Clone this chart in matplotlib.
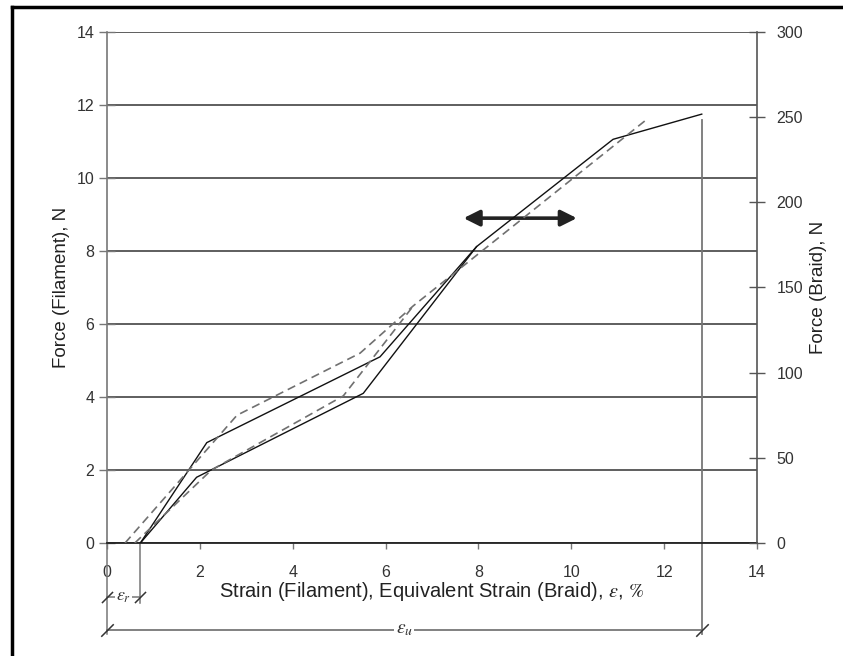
import matplotlib
matplotlib.use("Agg")
import matplotlib.pyplot as plt
from matplotlib.lines import Line2D

plt.rcParams['font.family'] = ['Liberation Sans', 'DejaVu Sans']
plt.rcParams['mathtext.fontset'] = 'stix'

# filament / braid curves (strain %, force N)
solid_a_x = [0.72, 2.15, 5.88, 7.96, 10.9, 12.81]
solid_a_y = [0.0, 2.75, 5.10, 8.12, 11.06, 11.75]
solid_b_x = [0.72, 1.93, 5.52, 7.96]
solid_b_y = [0.0, 1.80, 4.10, 8.12]
dash_a_x = [0.39, 2.80, 5.45, 6.60, 11.62]
dash_a_y = [0.0, 3.50, 5.20, 6.50, 11.60]
dash_b_x = [0.60, 2.25, 5.09, 6.60]
dash_b_y = [0.0, 2.00, 4.03, 6.50]

x_ticks = [0, 2, 4, 6, 8, 10, 12, 14]
y_ticks = [0, 2, 4, 6, 8, 10, 12, 14]
braid_ticks = [0, 50, 100, 150, 200, 250, 300]

eps_r = 0.72
eps_u = 12.81
eps_u_top = 11.6
arrow_y = 8.9
arrow_x = [7.68, 10.12]

fig = plt.figure(figsize=(8.43, 6.56), dpi=100)
ax = fig.add_axes([0.1269, 0.1723, 0.7711, 0.7789])
ax2 = ax.twinx()

ax.set_xlim(0, 14)
ax.set_ylim(0, 14)
ax2.set_ylim(0, 300)

ax.plot(solid_a_x, solid_a_y, color='#111111', lw=1.0, zorder=4)
ax.plot(solid_b_x, solid_b_y, color='#111111', lw=1.0, zorder=4)
ax.plot(dash_a_x, dash_a_y, color='#707070', lw=1.2, ls=(0, (5, 3)), zorder=4)
ax.plot(dash_b_x, dash_b_y, color='#707070', lw=1.2, ls=(0, (5, 3)), zorder=4)

# horizontal grid
ax.set_yticks(y_ticks)
ax.yaxis.grid(True, color='#333333', lw=1.1)
ax.set_axisbelow(True)
ax.set_xticks(x_ticks)

for a in (ax, ax2):
    a.spines['top'].set_visible(False)
ax.spines['left'].set_color('#777777')
ax.spines['left'].set_linewidth(1.2)
ax.spines['bottom'].set_color('#222222')
ax.spines['bottom'].set_linewidth(1.3)
ax.spines['right'].set_visible(False)
ax2.spines['left'].set_visible(False)
ax2.spines['bottom'].set_visible(False)
ax2.spines['right'].set_color('#555555')
ax2.spines['right'].set_linewidth(1.2)
ax2.set_yticks(braid_ticks)

ax.tick_params(axis='y', direction='inout', length=12, width=1, color='#777777',
               labelsize=11.5, labelcolor='#333333', pad=3)
ax.tick_params(axis='x', direction='out', length=4, width=1, color='#777777',
               labelsize=11.5, labelcolor='#333333', pad=12)
ax2.tick_params(axis='y', direction='inout', length=12, width=1, color='#555555',
                labelsize=11.5, labelcolor='#333333', pad=8)

narrow = ['Liberation Sans Narrow', 'Liberation Sans', 'DejaVu Sans']
ax.set_ylabel('Force (Filament), N', fontsize=13.5, family=narrow, color='#222222', labelpad=5)
ax2.set_ylabel('Force (Braid), N', fontsize=13.5, family=narrow, color='#222222', labelpad=5)
ax.set_xlabel(r'Strain (Filament), Equivalent Strain (Braid), $\varepsilon$, $\%$',
              fontsize=14.5, color='#222222', labelpad=0)

# double arrow
ax.annotate('', xy=(arrow_x[1], arrow_y), xytext=(arrow_x[0], arrow_y),
            arrowprops=dict(arrowstyle='<|-|>', color='#222222', lw=2.6,
                            mutation_scale=24, shrinkA=0, shrinkB=0), zorder=3)

# dimension lines for eps_r and eps_u
dim_r_y = -1.48
dim_u_y = -2.38
ext_bottom = -2.5
gray = '#777777'
ax.plot([0, 0], [0, ext_bottom], color=gray, lw=1.1, clip_on=False)
ax.plot([eps_r, eps_r], [0, -1.64], color=gray, lw=1.1, clip_on=False)
ax.plot([eps_u, eps_u], [eps_u_top, ext_bottom], color=gray, lw=1.3, clip_on=False)
ax.plot([0, eps_r], [dim_r_y, dim_r_y], color=gray, lw=1.1, clip_on=False)
ax.plot([0, eps_u], [dim_u_y, dim_u_y], color=gray, lw=1.3, clip_on=False)
slash = [(-1, -1), (1, 1)]
ax.plot([0, eps_r], [dim_r_y, dim_r_y], ls='none', marker=slash, ms=8,
        mec='#333333', mew=1.1, clip_on=False)
ax.plot([0, eps_u], [dim_u_y, dim_u_y], ls='none', marker=slash, ms=9,
        mec='#333333', mew=1.1, clip_on=False)
ax.text(eps_r / 2, dim_r_y, r'$\varepsilon_r$', fontsize=13, color='#333333',
        ha='center', va='center', clip_on=False,
        bbox=dict(facecolor='white', edgecolor='none', pad=0.5))
ax.text(eps_u / 2, dim_u_y, r'$\varepsilon_u$', fontsize=14, color='#333333',
        ha='center', va='center', clip_on=False,
        bbox=dict(facecolor='white', edgecolor='none', pad=1))

# page frame (open at right and bottom)
fig.add_artist(Line2D([12 / 843, 1], [1 - 7 / 656, 1 - 7 / 656], color='black', lw=2.5))
fig.add_artist(Line2D([12 / 843, 12 / 843], [0, 1 - 7 / 656], color='black', lw=2.5))

fig.savefig('out.png', dpi=100)
